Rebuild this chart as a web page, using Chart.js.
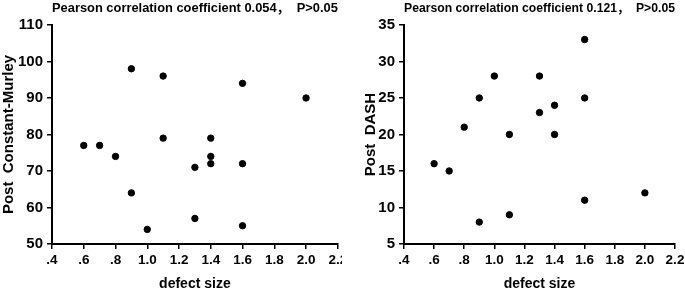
<!DOCTYPE html>
<html><head><meta charset="utf-8">
<script src="https://cdn.jsdelivr.net/npm/chart.js@4/dist/chart.umd.min.js"></script>
<style>
html,body{margin:0;padding:0;background:#fff;width:685px;height:291px;overflow:hidden;}
#w{position:relative;width:685px;height:291px;}
canvas{position:absolute;top:0;}
</style></head><body>
<div id="w">
<div id="a" style="position:absolute;left:0;top:0;width:342px;height:291px;"><canvas id="c1"></canvas></div>
<div id="b" style="position:absolute;left:342px;top:0;width:343px;height:291px;"><canvas id="c2"></canvas></div>
</div>
<script>
// Data
const defectCM = [0.6,0.7,0.8,0.9,0.9,1.0,1.1,1.1,1.3,1.3,1.4,1.4,1.4,1.6,1.6,1.6,2.0];
const postCM   = [77, 77, 74, 98, 64, 54, 96, 79, 71, 57, 79, 74, 72, 94, 72, 55, 90];
const defectDASH = [0.6,0.7,0.8,0.9,0.9,1.0,1.1,1.1,1.3,1.3,1.4,1.4,1.6,1.6,1.6,2.0];
const postDASH   = [16, 15, 21, 25, 8,  28, 20, 9,  28, 23, 24, 20, 33, 25, 11, 12];
const xTickLabels = ['.4','.6','.8','1.0','1.2','1.4','1.6','1.8','2.0','2.2'];
const titleCM = 'Pearson correlation coefficient 0.054\uFF0C  P>0.05';
const titleDASH = 'Pearson correlation coefficient 0.121\uFF0C  P>0.05';

const FONT = 'Arial, "Liberation Sans", "Noto Sans CJK SC", sans-serif';

function makeChart(id, xs, ys, title, yTitle, yMin, yMax, yStep, yWidth, padRight, yTitlePad){
  const pts = xs.map((x,i)=>({x:x, y:ys[i]}));
  return new Chart(document.getElementById(id), {
    type:'scatter',
    data:{datasets:[{data:pts, backgroundColor:'#000', borderColor:'#000', pointRadius:3.2, pointHoverRadius:3.2}]},
    options:{
      responsive:true, maintainAspectRatio:false, animation:false,
      layout:{padding:{left:0,right:padRight,top:0,bottom:0}},
      plugins:{
        legend:{display:false}, tooltip:{enabled:false},
        title:{display:true, text:title, fullSize:false, color:'#000',
          font:{family:FONT, size:13, weight:'bold', lineHeight:1.15}, padding:{top:1,bottom:9}}
      },
      scales:{
        x:{type:'linear', min:0.4, max:2.2,
          afterBuildTicks:(s)=>{ s.ticks = xTickLabels.map((l,i)=>({value:0.4+0.2*i})); },
          ticks:{autoSkip:false, maxRotation:0, color:'#000', padding:3,
            font:{family:FONT, size:13.5, weight:'bold'},
            callback:(v,i)=>xTickLabels[i]},
          grid:{display:true, drawOnChartArea:false, drawTicks:true, tickLength:5, color:'#000', lineWidth:1.5},
          border:{display:true, color:'#000', width:2},
          title:{display:true, text:'defect size', color:'#000', padding:{top:0,bottom:0},
            font:{family:FONT, size:14, weight:'bold', lineHeight:1.0}},
          afterFit:(s)=>{ s.height = 47; s.paddingLeft=0; s.paddingRight=0; }
        },
        y:{type:'linear', min:yMin, max:yMax,
          ticks:{stepSize:yStep, color:'#000', padding:4,
            font:{family:FONT, size:15, weight:'bold'}},
          grid:{display:true, drawOnChartArea:false, drawTicks:true, tickLength:5, color:'#000', lineWidth:1.5},
          border:{display:true, color:'#000', width:2},
          title:{display:true, text:yTitle, color:'#000', padding:{top:yTitlePad,bottom:2},
            font:{family:FONT, size:15, weight:'bold'}},
          afterFit:(s)=>{ s.width = yWidth; s.paddingTop=0; s.paddingBottom=0; }
        }
      }
    }
  });
}
makeChart('c1', defectCM, postCM, titleCM, 'Post  Constant-Murley', 50, 110, 10, 52, 2, 0);
makeChart('c2', defectDASH, postDASH, titleDASH, 'Post  DASH', 5, 35, 5, 62, 10, 20);
</script>
</body></html>
